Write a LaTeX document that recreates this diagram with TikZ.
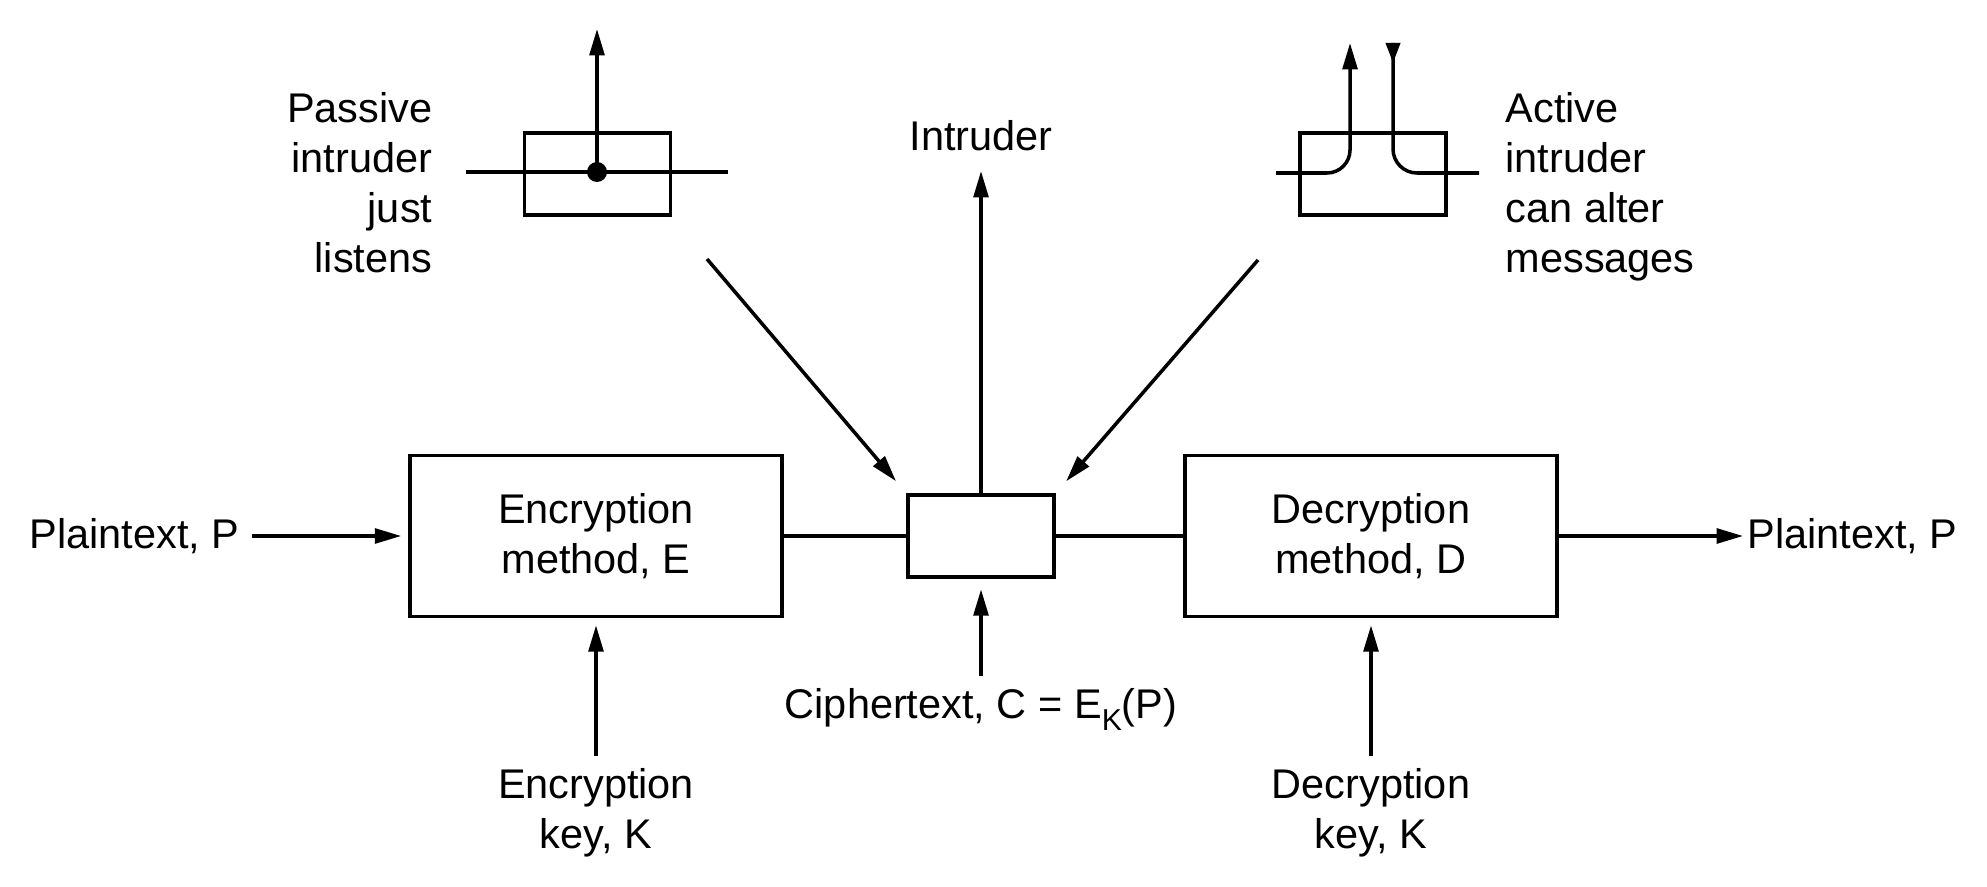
\documentclass[tikz,border=0pt]{standalone}
\usepackage{fontspec}
\setmainfont{Liberation Sans}
\usepackage{tikz}
\usetikzlibrary{%
	arrows.meta,%
	positioning,%
	calc
}
\tikzstyle{method} = [rectangle, draw = black, line width = 1pt, align = center, minimum width = 3.72cm, minimum height = 1.61cm]
\tikzstyle{tap} = [rectangle, draw = black, line width = 1pt, minimum width = 1.46cm, minimum height = 0.82cm]
\tikzstyle{lbl} = [inner sep = 0.12cm, align = center]
\tikzstyle{line} = [draw, line width = 1pt]
\tikzstyle{edge} = [draw, line width = 1pt, shorten > = 2pt, -{Triangle[length=7.5pt, width=4.2pt]}]
\newcommand{\lowsub}[1]{\raisebox{-3.4pt}{\fontsize{8.6pt}{8.6pt}\selectfont #1}}

\begin{document}
\begin{tikzpicture}[every node/.style={font=\fontsize{11.8pt}{14.2pt}\selectfont}]
	\useasboundingbox (0,0) rectangle (19.87,8.86);

	% First we draw the two methods and the channel
	\foreach \pos/\name/\txt in {{(5.96,3.50)/enc/Encryption\\method, E}, {(13.71,3.50)/dec/Decryption\\method, D}}
	\node[method] (\name) at \pos {\txt};
	\node[tap] (chan) at (9.81,3.50) {};

	% Then the texts round them
	\node[lbl, anchor=east] (ptin) at (2.52,3.50) {Plaintext, P};
	\node[lbl, anchor=west, inner sep=0.04cm] (ptout) at (17.43,3.50) {Plaintext, P};
	\foreach \pos/\name/\txt in {{(5.96,1.30)/enckey/Encryption\\key, K}, {(13.71,1.30)/deckey/Decryption\\key, K}}
	\node[lbl, anchor=north] (\name) at \pos {\txt};
	\node[lbl, anchor=north] (ctext) at (9.81,2.10) {Ciphertext, C = E\lowsub{K}(P)};
	\node[lbl, anchor=south] (intr) at (9.81,7.22) {Intruder};
	\node[lbl, anchor=north east, align=right] (ptxt) at (4.45,8.06) {Passive\\intruder\\just\\listens};
	\node[lbl, anchor=north west, align=left] (atxt) at (14.93,8.06) {Active\\intruder\\can alter\\messages};

	% Connect the boxes
	\path[line] (enc) -- (chan) (chan) -- (dec);
	\path[edge] (ptin) -- (enc);
	\path[edge, shorten > = 0pt] (dec) -- (ptout);
	\foreach \source/\dest in {enckey/enc, deckey/dec}
	\path[edge] (\source) -- (\dest);
	\path[edge, shorten > = 3pt] (ctext) -- (chan);
	\path[edge] (chan) -- (intr);

	% Both intruders reach the channel
	\coordinate (pfrom) at (7.07,6.27);
	\coordinate (afrom) at (12.58,6.26);
	\path[edge, shorten > = 4.5pt] (pfrom) -- (chan.north west);
	\path[edge, shorten > = 4.5pt] (afrom) -- (chan.north east);

	% Passive intruder: a tap on the line
	\node[tap] (pbox) at (5.975,7.12) {};
	\coordinate (ptap) at (5.97,7.14);
	\path[line] (4.66,7.14) -- (7.28,7.14);
	\fill (ptap) circle (0.1);
	\path[edge, shorten > = 0pt] (ptap) -- ++(0,1.43);

	% Active intruder: the line is cut and fed back
	\node[tap] (abox) at (13.73,7.12) {};
	\path[edge, shorten > = 0pt] (12.76,7.13) -- (13.27,7.13) arc[start angle=-90, end angle=0, radius=0.23] -- (13.50,8.43);
	\path[line] (13.93,8.43) -- (13.93,7.37) arc[start angle=180, end angle=270, radius=0.24] -- (14.79,7.13);
	\path[edge, shorten > = 0pt, -{Triangle[length=5.7pt, width=4pt]}] (13.93,8.43) -- (13.93,8.23);

\end{tikzpicture}
\end{document}
